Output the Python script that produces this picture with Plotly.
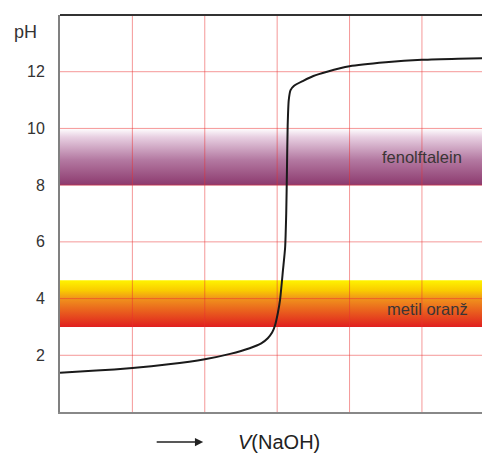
import plotly.graph_objects as go

# ---- data ----
v_naoh = [0, 0.5, 1.0, 1.5, 2.0, 2.35, 2.62, 2.78, 2.87, 2.93, 2.97, 3.01, 3.04,
          3.08, 3.11, 3.125, 3.135, 3.145, 3.16, 3.185, 3.23, 3.36, 3.5, 3.69,
          4.0, 4.5, 5.0, 5.5, 5.94]
ph = [1.38, 1.46, 1.55, 1.68, 1.86, 2.05, 2.25, 2.42, 2.6, 2.8, 3.05, 3.5, 3.96,
      5.0, 5.8, 7.0, 8.5, 10.1, 11.0, 11.35, 11.5, 11.68, 11.85, 12.0,
      12.19, 12.33, 12.42, 12.46, 12.48]

band_names = ["fenolftalein", "metil oranž"]
band_low = [8.0, 3.0]
band_high = [10.0, 4.65]

x_grid = [1, 2, 3, 4, 5]
y_ticks = [2, 4, 6, 8, 10, 12]

X_MAX = 5.94
Y_MAX = 14

band_scales = [
    [[0, "#8C3A6E"], [0.45, "#B47AA2"], [0.85, "#E8D0E2"], [1, "#FFFFFF"]],
    [[0, "#E01F1F"], [0.3, "#E8581E"], [0.6, "#F0921C"], [0.78, "#F9CC00"], [1, "#FFF400"]],
]
label_pos = [(5.0, 8.98), (5.07, 3.65)]

FONT = "Liberation Sans, Arial"

fig = go.Figure()

for name, lo, hi, cs in zip(band_names, band_low, band_high, band_scales):
    fig.add_trace(go.Scatter(
        x=[0, X_MAX, X_MAX, 0, 0], y=[lo, lo, hi, hi, lo],
        mode="lines", line=dict(width=0), fill="toself",
        fillgradient=dict(type="vertical", colorscale=cs),
        hoverinfo="skip", showlegend=False, name=name))

# grid lines drawn above the colour bands
gx, gy = [], []
for xv in x_grid:
    gx += [xv, xv, None]
    gy += [0, Y_MAX, None]
for yv in y_ticks:
    gx += [0, X_MAX, None]
    gy += [yv, yv, None]
fig.add_trace(go.Scatter(x=gx, y=gy, mode="lines",
                         line=dict(color="rgba(235,50,50,0.5)", width=1),
                         hoverinfo="skip", showlegend=False))

fig.add_trace(go.Scatter(x=v_naoh, y=ph, mode="lines",
                         line=dict(color="#1a1a1a", width=2, shape="spline", smoothing=0.6),
                         hoverinfo="skip", showlegend=False))

for name, (lx, ly) in zip(band_names, label_pos):
    fig.add_annotation(x=lx, y=ly, text=name, showarrow=False,
                       font=dict(family=FONT, size=16.5, color="#3a3535"))

# top frame line
fig.add_shape(type="line", xref="paper", yref="paper", x0=0, x1=1, y0=1, y1=1,
              line=dict(color="#333333", width=2))

# axis labels
fig.add_annotation(xref="paper", yref="paper", x=-0.081, y=0.957, text="pH",
                   xanchor="center", yanchor="middle",
                   showarrow=False, font=dict(family=FONT, size=18, color="#333"))
fig.add_annotation(xref="paper", yref="paper", x=0.333, y=-0.0756, text="",
                   showarrow=True, ax=-48, ay=0, arrowhead=2, arrowsize=1.1,
                   arrowwidth=1.5, arrowcolor="#222")
fig.add_annotation(xref="paper", yref="paper", x=0.509, y=-0.0756,
                   xanchor="center", yanchor="middle",
                   text="<i>V</i>(NaOH)", showarrow=False,
                   font=dict(family=FONT, size=20, color="#222"))

# page body has an 8px margin, so the figure is sized/offset to land the plot
fig.update_layout(
    width=482, height=446,
    margin=dict(l=52, r=0, t=7, b=42),
    paper_bgcolor="white", plot_bgcolor="white",
    xaxis=dict(range=[0, X_MAX], showgrid=False, zeroline=False,
               showticklabels=False, showline=True, linecolor="#888888",
               linewidth=2, fixedrange=True),
    yaxis=dict(range=[0, Y_MAX], showgrid=False, zeroline=False,
               tickvals=y_ticks, ticks="", ticklabelstandoff=10,
               tickfont=dict(family=FONT, size=16, color="#333333"),
               showline=True, linecolor="#808080", linewidth=2, fixedrange=True),
)

fig.write_html("out.html", config={"displayModeBar": False})
